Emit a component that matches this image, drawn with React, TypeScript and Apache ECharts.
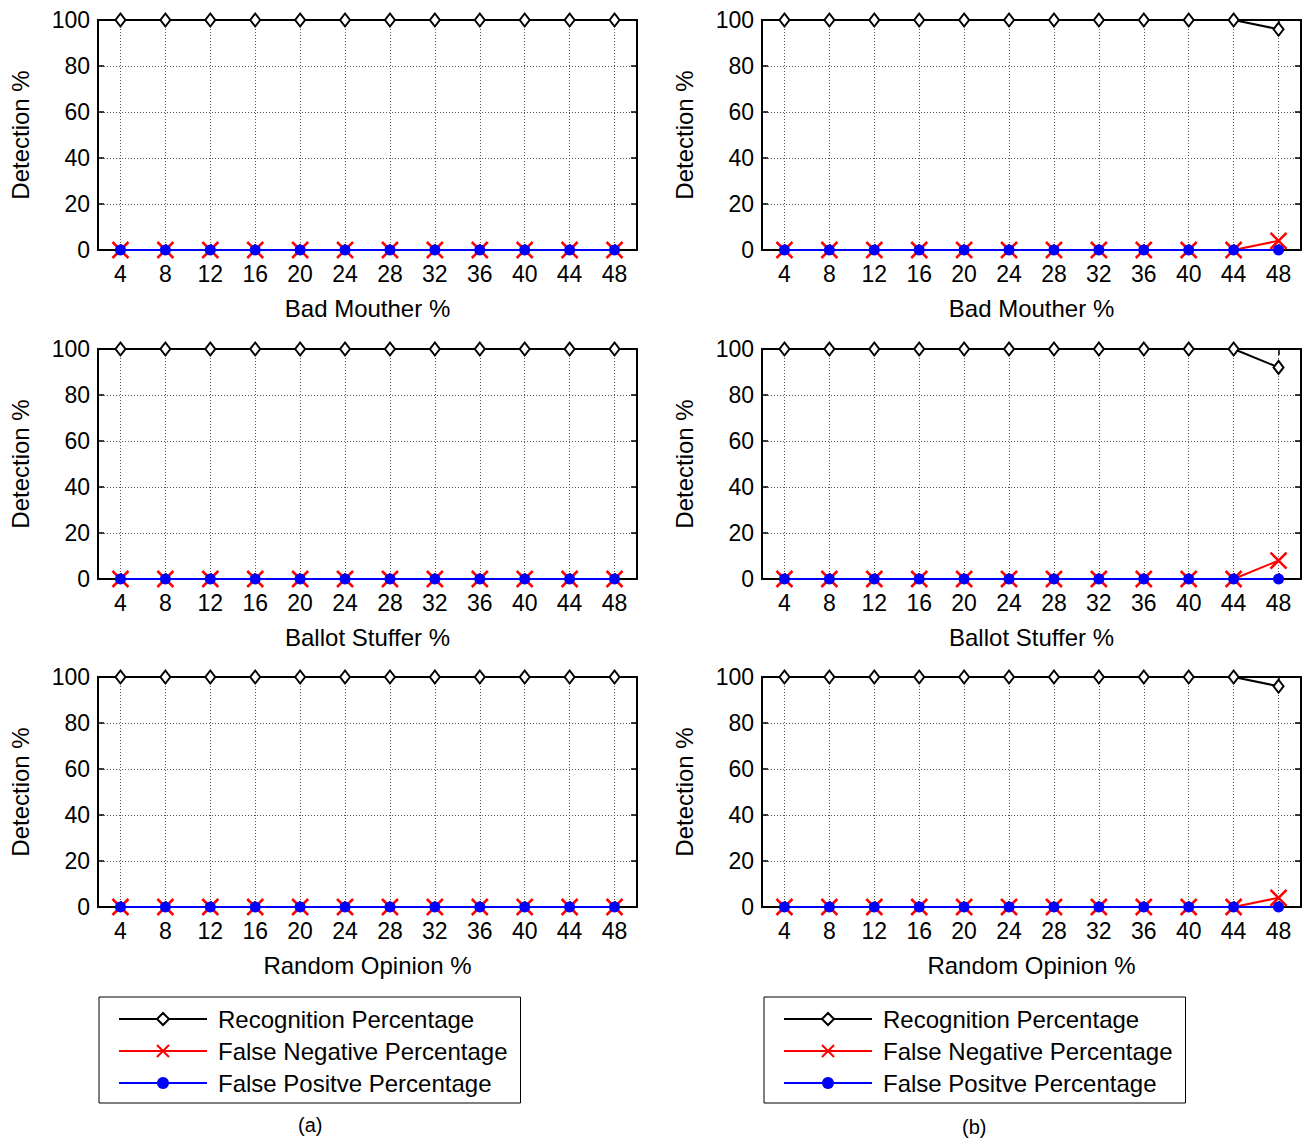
import React, { useEffect, useRef } from 'react';
import * as echarts from 'echarts';

const attackPercent = [4, 8, 12, 16, 20, 24, 28, 32, 36, 40, 44, 48];
const attackTitles = ['Bad Mouther %', 'Ballot Stuffer %', 'Random Opinion %'];
const seriesNames = ['Recognition Percentage', 'False Negative Percentage', 'False Positve Percentage'];

// Column (a)
const recA_bad = [100, 100, 100, 100, 100, 100, 100, 100, 100, 100, 100, 100];
const fnA_bad = [0, 0, 0, 0, 0, 0, 0, 0, 0, 0, 0, 0];
const fpA_bad = [0, 0, 0, 0, 0, 0, 0, 0, 0, 0, 0, 0];
const recA_ballot = [100, 100, 100, 100, 100, 100, 100, 100, 100, 100, 100, 100];
const fnA_ballot = [0, 0, 0, 0, 0, 0, 0, 0, 0, 0, 0, 0];
const fpA_ballot = [0, 0, 0, 0, 0, 0, 0, 0, 0, 0, 0, 0];
const recA_random = [100, 100, 100, 100, 100, 100, 100, 100, 100, 100, 100, 100];
const fnA_random = [0, 0, 0, 0, 0, 0, 0, 0, 0, 0, 0, 0];
const fpA_random = [0, 0, 0, 0, 0, 0, 0, 0, 0, 0, 0, 0];

// Column (b)
const recB_bad = [100, 100, 100, 100, 100, 100, 100, 100, 100, 100, 100, 96];
const fnB_bad = [0, 0, 0, 0, 0, 0, 0, 0, 0, 0, 0, 4];
const fpB_bad = [0, 0, 0, 0, 0, 0, 0, 0, 0, 0, 0, 0];
const recB_ballot = [100, 100, 100, 100, 100, 100, 100, 100, 100, 100, 100, 92];
const fnB_ballot = [0, 0, 0, 0, 0, 0, 0, 0, 0, 0, 0, 8];
const fpB_ballot = [0, 0, 0, 0, 0, 0, 0, 0, 0, 0, 0, 0];
const recB_random = [100, 100, 100, 100, 100, 100, 100, 100, 100, 100, 100, 96];
const fnB_random = [0, 0, 0, 0, 0, 0, 0, 0, 0, 0, 0, 4];
const fpB_random = [0, 0, 0, 0, 0, 0, 0, 0, 0, 0, 0, 0];

const FONT = '"Liberation Sans", Arial, Helvetica, sans-serif';

const panels = [
  { col: 0, row: 0, title: attackTitles[0], rec: recA_bad, fn: fnA_bad, fp: fpA_bad },
  { col: 0, row: 1, title: attackTitles[1], rec: recA_ballot, fn: fnA_ballot, fp: fpA_ballot },
  { col: 0, row: 2, title: attackTitles[2], rec: recA_random, fn: fnA_random, fp: fpA_random },
  { col: 1, row: 0, title: attackTitles[0], rec: recB_bad, fn: fnB_bad, fp: fpB_bad },
  { col: 1, row: 1, title: attackTitles[1], rec: recB_ballot, fn: fnB_ballot, fp: fpB_ballot },
  { col: 1, row: 2, title: attackTitles[2], rec: recB_random, fn: fnB_random, fp: fpB_random },
];

const gridLefts = [98, 762];
const gridTops = [20, 349, 677];
const GRID_W = 539;
const GRID_H = 230;

const CROSS = 'path://M0,0L16,16M16,0L0,16';

function pairs(vals: number[]) {
  return attackPercent.map((x, i) => [x, vals[i]]);
}

export default function App() {
  const ref = useRef<HTMLDivElement>(null);
  useEffect(() => {
    const chart = echarts.init(ref.current!, null, { renderer: 'svg' });
    const grids: any[] = [];
    const xAxes: any[] = [];
    const yAxes: any[] = [];
    const series: any[] = [];
    const axisLine = { show: true, onZero: false, lineStyle: { color: '#000', width: 2 } };
    const tick = { show: true, inside: true, length: 6, lineStyle: { color: '#000', width: 1.5 } };
    const gridLine = { show: true, lineStyle: { color: '#555', type: [1, 2], width: 1 } };
    panels.forEach((p, i) => {
      grids.push({ left: gridLefts[p.col], top: gridTops[p.row], width: GRID_W, height: GRID_H, containLabel: false });
      xAxes.push({
        type: 'value', gridIndex: i, position: 'bottom', min: 2, max: 50,
        axisLine, axisTick: { ...tick, customValues: attackPercent },
        axisLabel: { customValues: attackPercent, fontSize: 23, color: '#000', fontFamily: FONT, margin: 12 },
        splitLine: gridLine,
        name: p.title, nameLocation: 'middle', nameGap: 46,
        nameTextStyle: { fontSize: 24, color: '#000', fontFamily: FONT },
      });
      xAxes.push({
        type: 'value', gridIndex: i, position: 'top', min: 2, max: 50,
        axisLine, axisTick: { ...tick, customValues: attackPercent },
        axisLabel: { show: false, customValues: attackPercent }, splitLine: { show: false },
      });
      yAxes.push({
        type: 'value', gridIndex: i, position: 'left', min: 0, max: 100, interval: 20,
        axisLine, axisTick: tick,
        axisLabel: { fontSize: 23, color: '#000', fontFamily: FONT, margin: 8 },
        splitLine: gridLine,
        name: 'Detection %', nameLocation: 'middle', nameGap: 66, nameRotate: 90,
        nameTextStyle: { fontSize: 24, color: '#000', fontFamily: FONT },
      });
      yAxes.push({
        type: 'value', gridIndex: i, position: 'right', min: 0, max: 100, interval: 20,
        axisLine, axisTick: tick, axisLabel: { show: false }, splitLine: { show: false },
      });
      const common = { type: 'line', xAxisIndex: 2 * i, yAxisIndex: 2 * i, clip: false, silent: true };
      series.push({
        ...common, name: seriesNames[0], data: pairs(p.rec),
        symbol: 'diamond', symbolSize: [10, 13],
        lineStyle: { color: '#000', width: 2 },
        itemStyle: { color: '#fff', borderColor: '#000', borderWidth: 2 },
      });
      series.push({
        ...common, name: seriesNames[1], data: pairs(p.fn),
        symbol: CROSS, symbolSize: 16,
        lineStyle: { color: '#ff0000', width: 2 },
        itemStyle: { color: '#ff0000', borderColor: '#ff0000', borderWidth: 2.5 },
      });
      series.push({
        ...common, name: seriesNames[2], data: pairs(p.fp),
        symbol: 'circle', symbolSize: 11,
        lineStyle: { color: '#0000ff', width: 2 },
        itemStyle: { color: '#0000ff', borderColor: '#0000ff', borderWidth: 0 },
      });
    });

    const legendBase = {
      orient: 'vertical', top: 997, data: seriesNames,
      itemWidth: 88, itemHeight: 15, itemGap: 8,
      borderColor: '#000', borderWidth: 1, padding: [10, 13, 8, 19],
      selectedMode: false, backgroundColor: '#fff',
      textStyle: { fontSize: 24, color: '#000', fontFamily: FONT, lineHeight: 22, padding: [0, 0, 0, 6] },
    };

    chart.setOption({
      animation: false,
      backgroundColor: '#fff',
      grid: grids,
      xAxis: xAxes,
      yAxis: yAxes,
      series,
      legend: [
        { ...legendBase, left: 99 },
        { ...legendBase, left: 764 },
      ],
      graphic: [
        { type: 'text', left: 298, top: 1115, style: { text: '(a)', fontSize: 20, fill: '#000', fontFamily: FONT } },
        { type: 'text', left: 962, top: 1117, style: { text: '(b)', fontSize: 20, fill: '#000', fontFamily: FONT } },
      ],
    });
    return () => chart.dispose();
  }, []);
  return (
    <div
      ref={ref}
      style={{ position: 'absolute', left: 0, top: 0, width: 1303, height: 1139, background: '#fff' }}
    />
  );
}
